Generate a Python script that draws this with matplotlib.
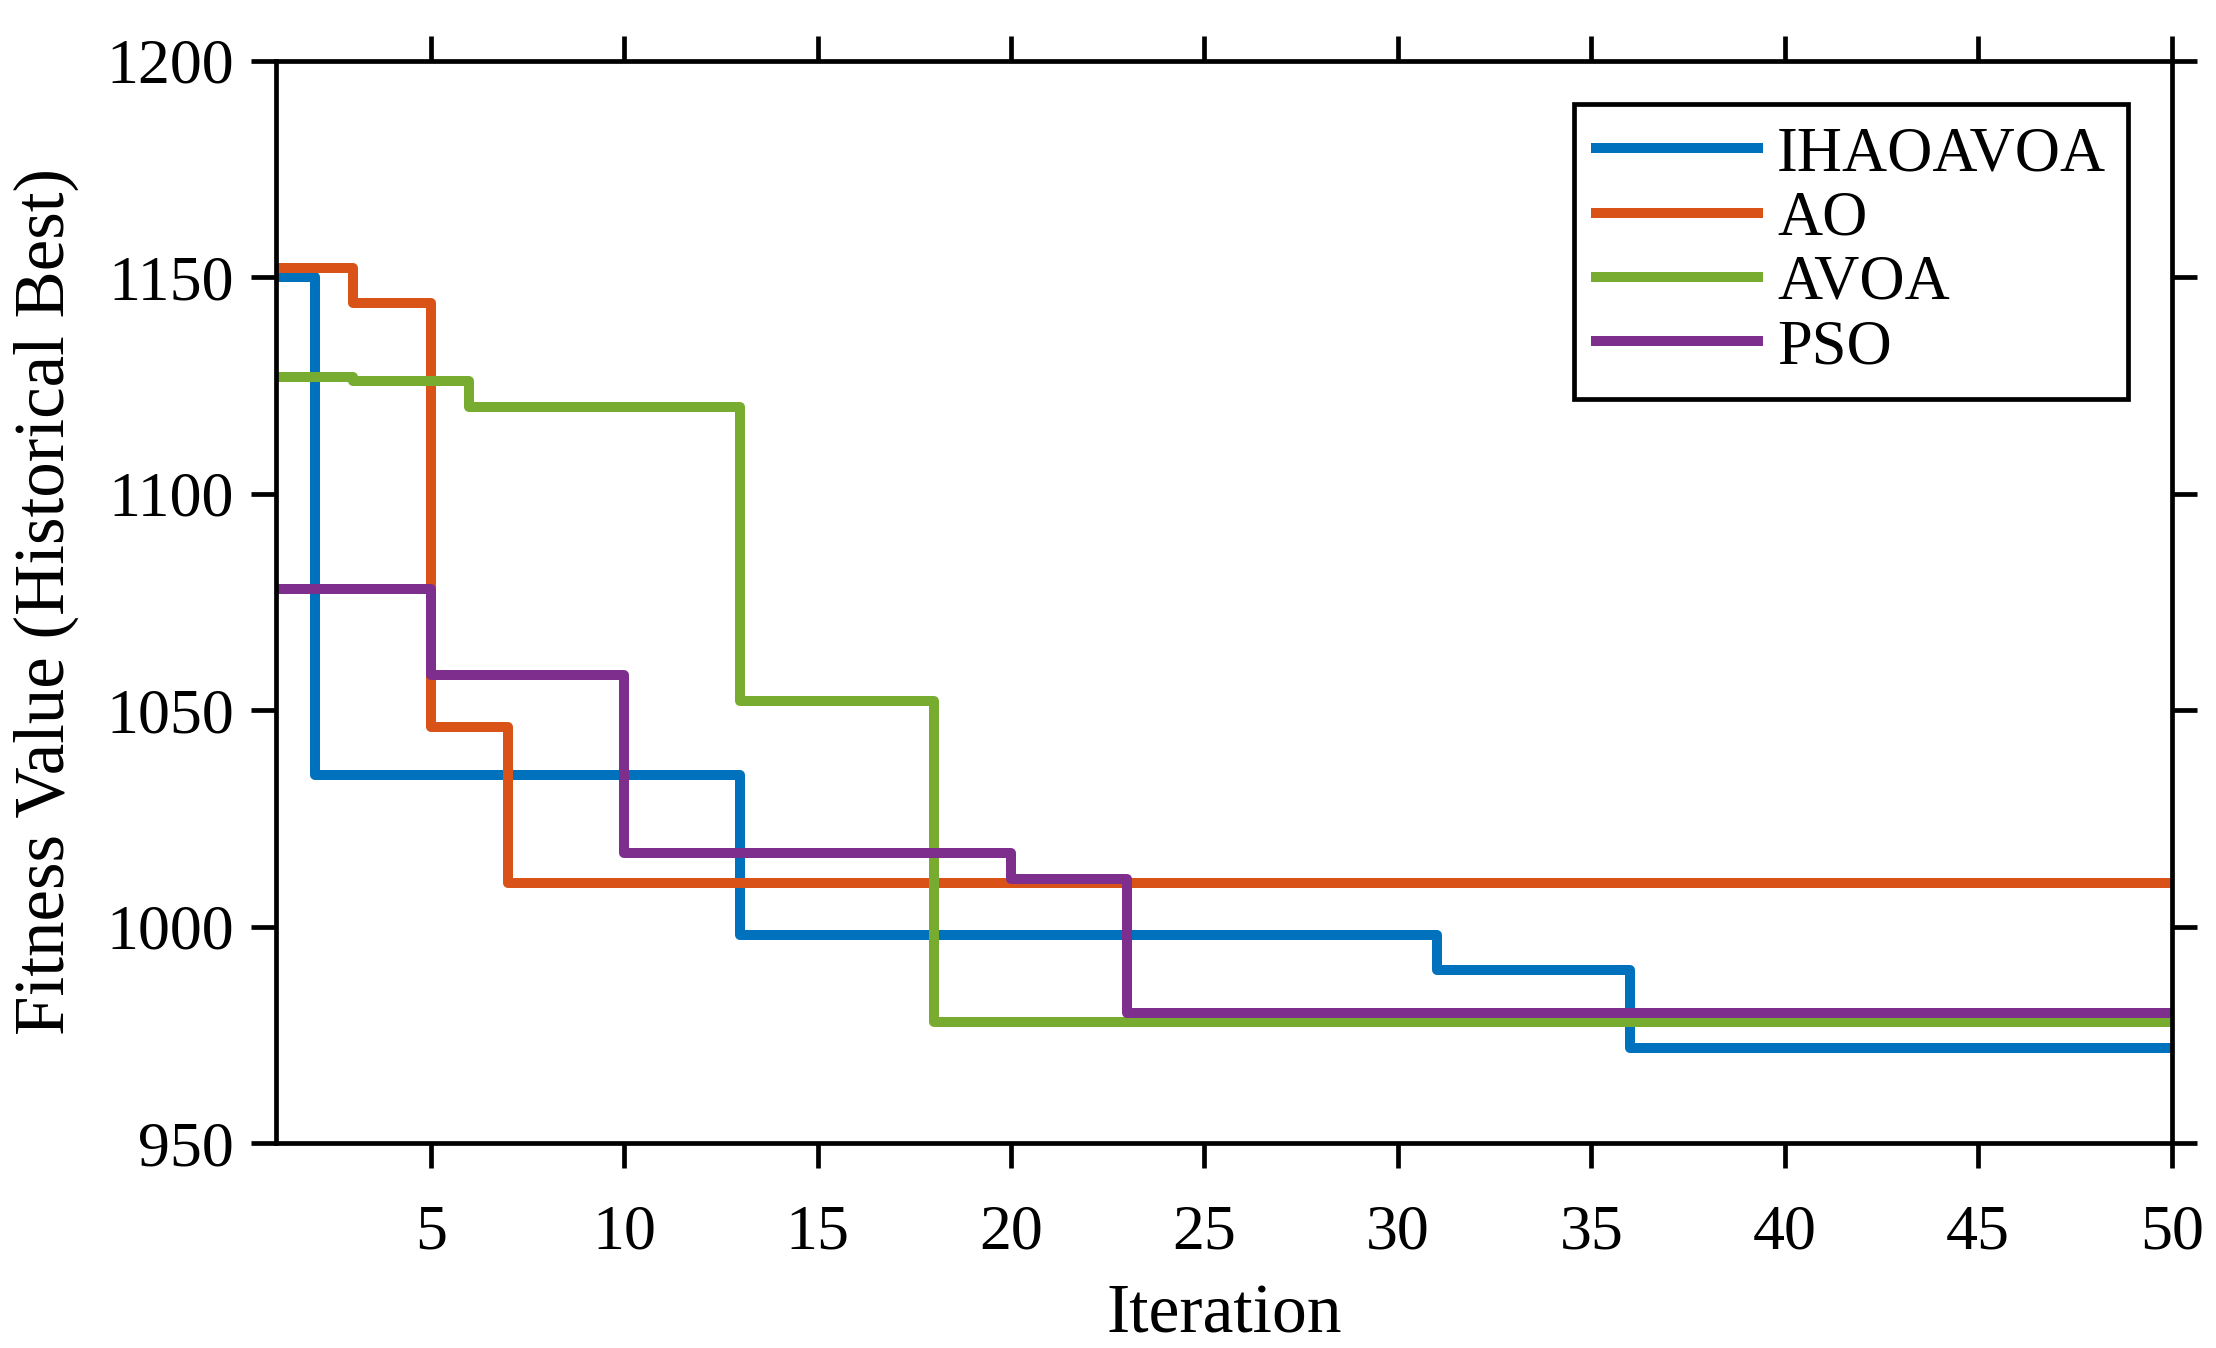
import matplotlib
matplotlib.use("Agg")
import matplotlib.pyplot as plt

# iteration where each step starts, and the best fitness held from there on
iters_ihaoavoa = [1, 2, 13, 31, 36, 50]
fit_ihaoavoa = [1150, 1035, 998, 990, 972, 972]

iters_ao = [1, 3, 5, 7, 50]
fit_ao = [1152, 1144, 1046, 1010, 1010]

iters_avoa = [1, 3, 6, 13, 18, 50]
fit_avoa = [1127, 1126, 1120, 1052, 978, 978]

iters_pso = [1, 5, 10, 20, 23, 50]
fit_pso = [1078, 1058, 1017, 1011, 980, 980]

names = ["IHAOAVOA", "AO", "AVOA", "PSO"]
colors = ["#0072BD", "#D95319", "#77AC30", "#7E2F8E"]

x_ticks = [5, 10, 15, 20, 25, 30, 35, 40, 45, 50]
y_ticks = [950, 1000, 1050, 1100, 1150, 1200]

plt.rcParams["font.family"] = ["Liberation Serif", "DejaVu Serif"]

fig = plt.figure(figsize=(11.08, 6.74), dpi=200)
ax = fig.add_axes([0.1245, 0.152, 0.8555, 0.803])

series = [(iters_ihaoavoa, fit_ihaoavoa), (iters_ao, fit_ao),
          (iters_avoa, fit_avoa), (iters_pso, fit_pso)]
for (xs, ys), name, c in zip(series, names, colors):
    ax.step(xs, ys, where="post", color=c, lw=3.6, label=name)

ax.set_xlim(1, 50)
ax.set_ylim(950, 1200)
ax.set_xticks(x_ticks)
ax.set_yticks(y_ticks)

for s in ax.spines.values():
    s.set_linewidth(1.7)
ax.tick_params(direction="out", length=9, width=1.7, labelsize=23,
               top=True, right=True, pad=6)
ax.tick_params(axis="x", pad=13)

ax.set_xlabel("Iteration", fontsize=25, labelpad=8)
ax.set_ylabel("Fitness Value (Historical Best)", fontsize=25.5, labelpad=10)

leg = ax.legend(loc="upper right", fontsize=22.5, handlelength=2.6,
                borderaxespad=0.7, fancybox=False, framealpha=1,
                edgecolor="black", labelspacing=0.1, handletextpad=0.3,
                borderpad=0.35)
leg.get_frame().set_linewidth(1.7)

fig.savefig("out.png", dpi=200)
